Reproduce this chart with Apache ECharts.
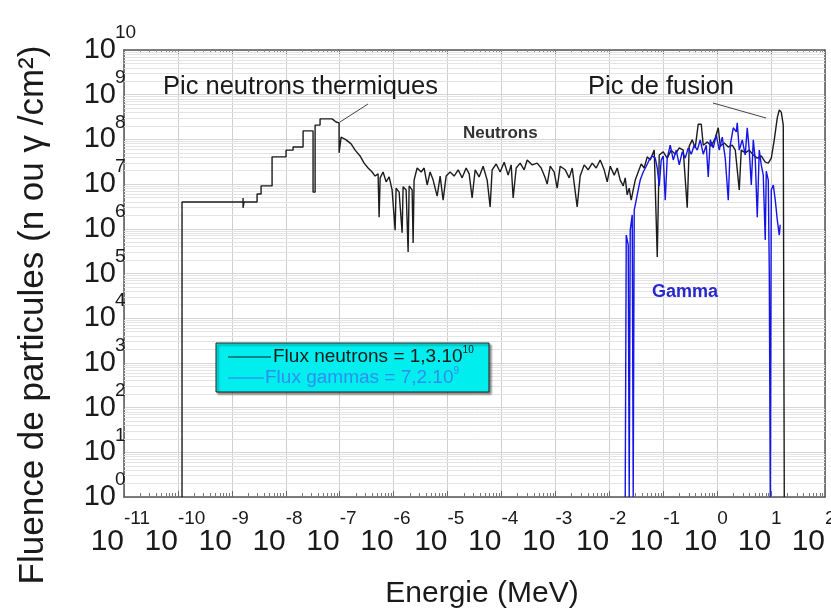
<!DOCTYPE html>
<html><head><meta charset="utf-8">
<script src="https://cdn.jsdelivr.net/npm/echarts@6/dist/echarts.min.js"></script>
<style>html,body{margin:0;padding:0;background:#fff;overflow:hidden}#c{width:831px;height:612px}</style>
</head><body><div id="c"></div>
<script>
// Axis decades (log10 of the tick values)
const xDecades = [-11,-10,-9,-8,-7,-6,-5,-4,-3,-2,-1,0,1,2];
const yDecades = [0,1,2,3,4,5,6,7,8,9,10];

// Neutron spectrum: [log10(E / MeV), log10(fluence)]
const neutronPoints = [
[-9.924,0],[-9.924,6.60],[-8.792,6.60],[-8.792,6.69],[-8.792,6.47],[-8.774,6.60],[-8.532,6.60],[-8.532,6.78],
[-8.458,6.78],[-8.458,6.96],[-8.403,6.96],[-8.254,6.96],[-8.254,7.61],[-7.994,7.61],[-7.994,7.76],[-7.865,7.76],
[-7.865,7.83],[-7.679,7.83],[-7.679,8.19],[-7.494,8.19],[-7.494,6.82],[-7.456,6.82],[-7.456,8.32],[-7.364,8.32],
[-7.364,8.46],[-7.141,8.46],[-7.067,8.39],[-7.011,8.37],[-7.011,7.70],[-6.974,8.05],[-6.881,7.99],[-6.788,7.90],
[-6.714,7.76],[-6.622,7.63],[-6.547,7.47],[-6.473,7.36],[-6.399,7.27],[-6.343,7.18],[-6.288,7.23],[-6.269,6.26],
[-6.250,7.14],[-6.195,7.27],[-6.139,7.05],[-6.083,7.16],[-6.028,6.87],[-5.972,5.97],[-5.954,6.91],[-5.898,6.82],
[-5.842,5.91],[-5.824,6.94],[-5.768,6.87],[-5.731,5.48],[-5.712,6.96],[-5.657,6.87],[-5.638,5.68],[-5.620,7.09],
[-5.564,7.36],[-5.490,7.27],[-5.434,7.36],[-5.378,6.98],[-5.323,7.27],[-5.267,7.09],[-5.193,6.73],[-5.137,7.18],
[-5.082,6.64],[-5.026,7.18],[-4.952,7.27],[-4.878,7.18],[-4.803,7.32],[-4.729,7.14],[-4.655,7.36],[-4.599,7.23],
[-4.544,6.69],[-4.488,7.32],[-4.414,7.16],[-4.340,7.40],[-4.265,7.09],[-4.210,6.49],[-4.173,7.32],[-4.098,7.45],
[-4.024,7.27],[-3.950,7.49],[-3.876,7.20],[-3.820,7.43],[-3.783,6.69],[-3.727,7.36],[-3.653,7.47],[-3.579,7.32],
[-3.523,7.54],[-3.430,7.43],[-3.338,7.47],[-3.264,7.36],[-3.189,7.14],[-3.152,7.00],[-3.096,7.40],[-3.022,7.27],
[-2.967,6.91],[-2.911,7.40],[-2.818,7.32],[-2.744,7.14],[-2.688,7.36],[-2.596,6.49],[-2.540,7.18],[-2.466,7.43],
[-2.392,7.32],[-2.317,7.47],[-2.243,7.36],[-2.169,7.54],[-2.095,7.32],[-2.039,7.05],[-1.983,7.40],[-1.909,7.20],
[-1.853,7.36],[-1.798,7.09],[-1.742,6.96],[-1.705,7.14],[-1.668,6.76],[-1.631,6.91],[-1.594,6.64],[-1.557,6.87],
[-1.519,7.09],[-1.464,7.27],[-1.408,7.45],[-1.353,7.36],[-1.297,7.61],[-1.241,7.54],[-1.167,7.76],[-1.111,5.37],
[-1.074,7.65],[-1.000,7.72],[-0.926,7.58],[-0.852,7.76],[-0.777,7.67],[-0.703,7.81],[-0.629,7.76],[-0.555,6.47],
[-0.518,7.85],[-0.462,7.99],[-0.407,7.81],[-0.351,8.34],[-0.295,8.34],[-0.258,7.87],[-0.184,7.94],[-0.109,7.85],
[-0.035,8.03],[0.020,8.26],[0.058,7.85],[0.132,7.92],[0.206,7.83],[0.280,7.87],[0.336,7.76],[0.410,6.87],
[0.447,7.76],[0.521,7.70],[0.595,7.76],[0.670,7.65],[0.744,7.58],[0.818,7.63],[0.892,7.49],[0.948,7.47],
[1.004,7.58],[1.059,7.99],[1.115,8.48],[1.152,8.66],[1.189,8.61],[1.226,8.32],[1.245,0]
];

// Gamma spectrum: [log10(E / MeV), log10(fluence)]
const gammaPoints = [
[-1.705,0],[-1.686,5.86],[-1.649,5.64],[-1.631,0],[-1.612,5.97],[-1.575,6.31],[-1.557,0],[-1.538,6.42],
[-1.501,6.64],[-1.464,6.87],[-1.427,7.09],[-1.371,7.27],[-1.315,7.40],[-1.260,7.54],[-1.204,7.63],[-1.148,7.58],
[-1.111,7.36],[-1.074,6.96],[-1.037,7.54],[-1.000,7.63],[-0.963,6.64],[-0.926,7.58],[-0.870,7.87],[-0.814,7.54],
[-0.759,7.76],[-0.703,7.43],[-0.647,7.72],[-0.592,7.58],[-0.536,7.81],[-0.481,7.67],[-0.425,7.87],[-0.369,7.76],
[-0.314,7.99],[-0.258,7.67],[-0.202,7.87],[-0.165,7.16],[-0.128,7.99],[-0.072,7.81],[-0.017,8.10],[0.039,7.76],
[0.095,8.05],[0.150,7.58],[0.206,6.64],[0.243,7.87],[0.299,8.26],[0.355,8.17],[0.373,8.37],[0.410,7.76],
[0.466,7.99],[0.521,7.65],[0.558,8.26],[0.595,7.76],[0.633,6.98],[0.670,7.99],[0.707,7.54],[0.744,6.26],
[0.781,7.76],[0.818,7.43],[0.855,7.20],[0.892,5.75],[0.911,7.29],[0.948,7.09],[0.967,5.01],[0.985,0],
[1.004,6.87],[1.041,6.98],[1.078,6.64],[1.115,6.20],[1.152,5.86],[1.170,6.09]
];

const legendTexts = ['Flux neutrons = 1,3.10', '10', 'Flux gammas = 7,2.10', '9'];
const annotations = ['Pic neutrons thermiques', 'Pic de fusion', 'Neutrons', 'Gamma'];
const xTitle = 'Energie (MeV)';
const yTitle = 'Fluence de particules (n ou \u03b3 /cm\u00b2)';

const FONT = 'Liberation Sans, Arial, Helvetica, sans-serif';
const toData = pts => pts.map(p => [Math.pow(10, p[0]), Math.pow(10, p[1])]);

const minorGrid = [];
for (let d = yDecades[0]; d < yDecades[yDecades.length - 1]; d++) {
  for (let k = 2; k <= 9; k++) minorGrid.push({ yAxis: k * Math.pow(10, d) });
}

const baseLabel = () => '10';
const expOnly = v => String(Math.round(Math.log10(v)));
const xMin = Math.pow(10, xDecades[0]), xMax = Math.pow(10, xDecades[xDecades.length - 1]);
const yMin = Math.pow(10, yDecades[0]), yMax = Math.pow(10, yDecades[yDecades.length - 1]);
const hidden = { axisLine: { show: false }, axisTick: { show: false }, splitLine: { show: false } };

const chart = echarts.init(document.getElementById('c'), null, { renderer: 'canvas' });
chart.setOption({
  animation: false,
  backgroundColor: '#ffffff',
  grid: { left: 124, right: 6, top: 50, bottom: 115, containLabel: false, outerBoundsMode: 'none' },
  xAxis: [{
    type: 'log', logBase: 10, min: xMin, max: xMax, interval: 1, splitNumber: 13,
    axisLine: { show: true, lineStyle: { color: '#555', width: 1.5 } },
    axisTick: { show: true, inside: true, length: 6, lineStyle: { color: '#666' } },
    minorTick: { show: true, splitNumber: 9, length: 4, lineStyle: { color: '#777' } },
    splitLine: { show: true, lineStyle: { color: '#cfcfcf', width: 1 } },
    axisLabel: { formatter: baseLabel, margin: 30, align: 'right', fontSize: 30, lineHeight: 30,
      color: '#1a1a1a', fontFamily: FONT, showMinLabel: true, showMaxLabel: true }
  }, {
    type: 'log', logBase: 10, position: 'top', min: xMin, max: xMax, interval: 1, splitNumber: 13,
    axisLine: { show: true, lineStyle: { color: '#555', width: 1.5 } },
    axisTick: { show: true, inside: true, length: 5, lineStyle: { color: '#777' } },
    minorTick: { show: true, splitNumber: 9, length: 3, lineStyle: { color: '#888' } },
    splitLine: { show: false }, axisLabel: { show: false }
  }, Object.assign({
    type: 'log', logBase: 10, position: 'bottom', min: xMin, max: xMax, interval: 1, splitNumber: 13,
    axisLabel: { formatter: expOnly, margin: 12, align: 'left', fontSize: 19, lineHeight: 20,
      color: '#1a1a1a', fontFamily: FONT, showMinLabel: true, showMaxLabel: true }
  }, hidden)],
  yAxis: [{
    type: 'log', logBase: 10, min: yMin, max: yMax, interval: 1, splitNumber: 10,
    axisLine: { show: true, lineStyle: { color: '#555', width: 1.5 } },
    axisTick: { show: false },
    splitLine: { show: true, lineStyle: { color: '#d6d6d6', width: 1 } },
    axisLabel: { formatter: baseLabel, margin: 8, align: 'right', fontSize: 29, lineHeight: 30,
      color: '#1a1a1a', fontFamily: FONT, showMinLabel: true, showMaxLabel: true }
  }, {
    type: 'log', logBase: 10, position: 'right', min: yMin, max: yMax,
    axisLine: { show: true, lineStyle: { color: '#555', width: 1.5 } },
    axisTick: { show: false }, splitLine: { show: false }, axisLabel: { show: false }
  }, Object.assign({
    type: 'log', logBase: 10, position: 'left', min: yMin, max: yMax, interval: 1, splitNumber: 10,
    axisLabel: { formatter: expOnly, margin: 9, align: 'left', verticalAlign: 'bottom', padding: [0, 0, 7, 0],
      fontSize: 19, lineHeight: 20, color: '#1a1a1a', fontFamily: FONT, showMinLabel: true, showMaxLabel: true }
  }, hidden)],
  series: [{
    name: 'grid', type: 'line', data: [], z: 1, silent: true,
    markLine: {
      silent: true, z: 1, symbol: ['none', 'none'], label: { show: false },
      lineStyle: { color: '#e4e4e4', type: 'solid', width: 1 },
      emphasis: { disabled: true },
      data: minorGrid, animation: false
    }
  }, {
    name: 'Neutrons', type: 'line', data: toData(neutronPoints), z: 3,
    showSymbol: false, symbol: 'none',
    lineStyle: { color: '#1c1c1c', width: 1.4 }
  }, {
    name: 'Gamma', type: 'line', data: toData(gammaPoints), z: 4,
    showSymbol: false, symbol: 'none',
    lineStyle: { color: '#1414e6', width: 1.4 }
  }],
  graphic: [
    { type: 'text', z: 10, x: 33, y: 315, rotation: Math.PI / 2,
      style: { text: yTitle, font: '35px ' + FONT, fill: '#1a1a1a', align: 'center', verticalAlign: 'middle' } },
    { type: 'text', z: 10, x: 482, y: 594,
      style: { text: xTitle, font: '30px ' + FONT, fill: '#1a1a1a', align: 'center', verticalAlign: 'middle' } },
    { type: 'text', z: 10, x: 163, y: 87,
      style: { text: annotations[0], font: '25.5px ' + FONT, fill: '#1a1a1a', align: 'left', verticalAlign: 'middle' } },
    { type: 'text', z: 10, x: 588, y: 87,
      style: { text: annotations[1], font: '25.5px ' + FONT, fill: '#1a1a1a', align: 'left', verticalAlign: 'middle' } },
    { type: 'text', z: 10, x: 463, y: 133,
      style: { text: annotations[2], font: 'bold 17px ' + FONT, fill: '#333', align: 'left', verticalAlign: 'middle' } },
    { type: 'text', z: 10, x: 652, y: 292,
      style: { text: annotations[3], font: 'bold 18px ' + FONT, fill: '#2828cc', align: 'left', verticalAlign: 'middle' } },
    { type: 'line', z: 10, shape: { x1: 368, y1: 104, x2: 340, y2: 122 }, style: { stroke: '#444', lineWidth: 1 } },
    { type: 'line', z: 10, shape: { x1: 713, y1: 103, x2: 766, y2: 118 }, style: { stroke: '#444', lineWidth: 1 } },
    { type: 'group', z: 10, x: 216, y: 343, children: [
      { type: 'rect', z: 10, shape: { x: 0, y: 0, width: 273, height: 49 },
        style: { fill: '#00eeee', stroke: '#222', lineWidth: 1, shadowBlur: 2, shadowOffsetX: 2, shadowOffsetY: 2, shadowColor: 'rgba(0,0,0,0.45)' } },
      { type: 'line', z: 11, shape: { x1: 12, y1: 14, x2: 55, y2: 14 }, style: { stroke: '#1c1c1c', lineWidth: 1.2 } },
      { type: 'text', z: 11, x: 57, y: 14, style: {
          text: '{m|' + legendTexts[0] + '}{s|' + legendTexts[1] + '}', verticalAlign: 'middle', align: 'left',
          rich: { m: { fontSize: 19, fontFamily: FONT, fill: '#1a1a1a', color: '#1a1a1a', verticalAlign: 'middle', lineHeight: 20 },
                  s: { fontSize: 10, fontFamily: FONT, fill: '#1a1a1a', color: '#1a1a1a', padding: [0, 0, 14, 0], verticalAlign: 'middle', lineHeight: 11 } } } },
      { type: 'line', z: 11, shape: { x1: 12, y1: 35, x2: 48, y2: 35 }, style: { stroke: '#3a78f0', lineWidth: 1.2 } },
      { type: 'text', z: 11, x: 49, y: 35, style: {
          text: '{m|' + legendTexts[2] + '}{s|' + legendTexts[3] + '}', verticalAlign: 'middle', align: 'left',
          rich: { m: { fontSize: 19, fontFamily: FONT, fill: '#2f8ff0', color: '#2f8ff0', verticalAlign: 'middle', lineHeight: 20 },
                  s: { fontSize: 10, fontFamily: FONT, fill: '#2f8ff0', color: '#2f8ff0', padding: [0, 0, 14, 0], verticalAlign: 'middle', lineHeight: 11 } } } }
    ] }
  ]
});
</script>
</body></html>
